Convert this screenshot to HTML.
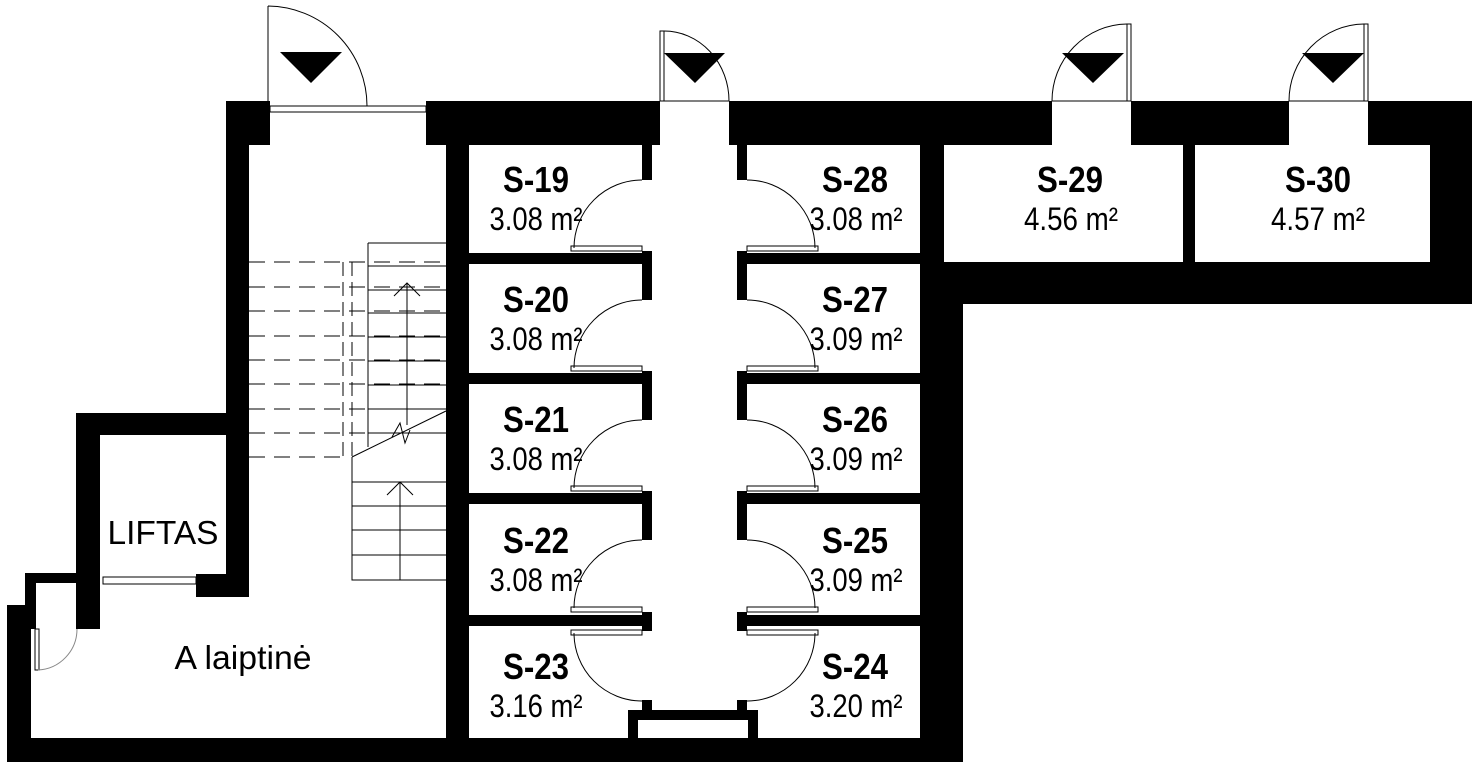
<!DOCTYPE html>
<html><head><meta charset="utf-8"><style>
html,body{margin:0;padding:0;background:#fff;}
svg{display:block;}
.l{font-family:"Liberation Sans",sans-serif;font-weight:bold;font-size:36px;text-anchor:middle;}
.a{font-family:"Liberation Sans",sans-serif;font-size:32px;text-anchor:middle;}
.n{font-family:"Liberation Sans",sans-serif;font-size:33px;text-anchor:middle;}
</style></head><body>
<svg width="1480" height="768" viewBox="0 0 1480 768" xmlns="http://www.w3.org/2000/svg">
<g fill="#000">
<rect x="226" y="101" width="44" height="44"/>
<rect x="426" y="101" width="234" height="44"/>
<rect x="729" y="101" width="323" height="44"/>
<rect x="1131" y="101" width="158" height="44"/>
<rect x="1368" y="101" width="104" height="44"/>
<rect x="1430" y="101" width="42" height="203"/>
<rect x="920" y="262" width="552" height="42"/>
<rect x="920" y="145" width="24" height="120"/>
<rect x="920" y="262" width="43" height="500"/>
<rect x="1183" y="145" width="12" height="120"/>
<rect x="226" y="145" width="23" height="452"/>
<rect x="446" y="101" width="23" height="661"/>
<rect x="76" y="413" width="173" height="22"/>
<rect x="76" y="413" width="24" height="216"/>
<rect x="196" y="574" width="53" height="23"/>
<rect x="25" y="573" width="53" height="10"/>
<rect x="25" y="573" width="11" height="56"/>
<rect x="7" y="605" width="24" height="157"/>
<rect x="7" y="738" width="956" height="24"/>
<rect x="628" y="710" width="130" height="10"/>
<rect x="628" y="710" width="10" height="30"/>
<rect x="748" y="710" width="10" height="30"/>
<rect x="642" y="700" width="10" height="12"/>
<rect x="737" y="700" width="10" height="12"/>
<polygon points="280,52 342,52 311,83"/>
<polygon points="664,53 725,53 695,83"/>
<polygon points="1062,53 1124,53 1093,83"/>
<polygon points="1302,53 1364,53 1333,83"/>
</g>
<g fill="#000">
<rect x="642" y="145" width="10" height="35"/><rect x="737" y="145" width="10" height="35"/>
<rect x="642" y="251" width="10" height="49"/><rect x="737" y="251" width="10" height="49"/>
<rect x="642" y="371" width="10" height="49"/><rect x="737" y="371" width="10" height="49"/>
<rect x="642" y="491" width="10" height="49"/><rect x="737" y="491" width="10" height="49"/>
<rect x="642" y="612" width="10" height="19"/><rect x="737" y="612" width="10" height="19"/>
<rect x="469" y="253" width="173" height="11"/><rect x="747" y="253" width="173" height="11"/>
<rect x="469" y="373" width="173" height="11"/><rect x="747" y="373" width="173" height="11"/>
<rect x="469" y="493" width="173" height="11"/><rect x="747" y="493" width="173" height="11"/>
<rect x="469" y="615" width="173" height="11"/><rect x="747" y="615" width="173" height="11"/>
</g>
<g fill="#fff" stroke="#000" stroke-width="1">
<rect x="571" y="246" width="71" height="5"/><rect x="747" y="246" width="71" height="5"/>
<rect x="571" y="366" width="71" height="5"/><rect x="747" y="366" width="71" height="5"/>
<rect x="571" y="486" width="71" height="5"/><rect x="747" y="486" width="71" height="5"/>
<rect x="571" y="607" width="71" height="5"/><rect x="747" y="607" width="71" height="5"/>
<rect x="571" y="630" width="71" height="5"/><rect x="747" y="630" width="71" height="5"/>
<rect x="660" y="31" width="4" height="70"/>
<rect x="1127" y="24" width="4" height="77"/>
<rect x="1364" y="24" width="4" height="77"/>
<rect x="270" y="106" width="156" height="6"/>
<rect x="103" y="577" width="93" height="7"/>
<rect x="35" y="629" width="4" height="41"/>
</g>
<g fill="none" stroke="#000" stroke-width="1">
<path d="M642,180 A68,68 0 0 0 574,248"/><path d="M747,180 A68,68 0 0 1 815,248"/>
<path d="M642,300 A68,68 0 0 0 574,368"/><path d="M747,300 A68,68 0 0 1 815,368"/>
<path d="M642,420 A68,68 0 0 0 574,488"/><path d="M747,420 A68,68 0 0 1 815,488"/>
<path d="M642,540 A68,68 0 0 0 574,608"/><path d="M747,540 A68,68 0 0 1 815,608"/>
<path d="M574,633 A68,68 0 0 0 642,701"/><path d="M815,633 A68,68 0 0 1 747,701"/>
<path d="M268,6 L268,101 M268,6 A100,100 0 0 1 367,106"/>
<path d="M664,31 A65,70 0 0 1 729,101 M660,101 L729,101"/>
<path d="M1127,24 A76,77 0 0 0 1052,101 M1052,101 L1131,101"/>
<path d="M1364,24 A76,77 0 0 0 1289,101 M1289,101 L1368,101"/>
<path d="M77,629 A41,41 0 0 1 38,670" stroke="#888"/>
<path d="M368,243 L446,243 M368,243 L368,447"/>
<path d="M368,266 H446 M368,290 H446 M368,313 H446 M368,337 H446 M368,361 H446 M368,385 H446 M368,409 H446 M368,433 H446"/>
<path d="M352,457 L446,411 M352,457 V580 H446"/>
<path d="M352,482 H446 M352,506 H446 M352,530 H446 M352,555 H446"/>
<path d="M407,425 V283 M394,296 L407,283 L420,296"/>
<path d="M400,580 V482 M387,495 L400,482 L413,495"/>
<path d="M392,437 L400,423 L405,443 L410,430"/>
<path d="M343,262 V457 M352,262 V457" stroke-dasharray="14,6"/>
<path d="M249,262 H446 M249,287 H446 M249,311 H446 M249,336 H446 M249,360 H446 M249,384 H446 M249,409 H446 M249,433 H368 M249,457 H343" stroke-dasharray="16,9"/>
</g>
<g>
<text class="l" x="536" y="192" textLength="66" lengthAdjust="spacingAndGlyphs">S-19</text><text class="a" x="536" y="230" textLength="93" lengthAdjust="spacingAndGlyphs">3.08 m²</text>
<text class="l" x="536" y="312" textLength="66" lengthAdjust="spacingAndGlyphs">S-20</text><text class="a" x="536" y="350" textLength="93" lengthAdjust="spacingAndGlyphs">3.08 m²</text>
<text class="l" x="536" y="432" textLength="66" lengthAdjust="spacingAndGlyphs">S-21</text><text class="a" x="536" y="470" textLength="93" lengthAdjust="spacingAndGlyphs">3.08 m²</text>
<text class="l" x="536" y="553" textLength="66" lengthAdjust="spacingAndGlyphs">S-22</text><text class="a" x="536" y="591" textLength="93" lengthAdjust="spacingAndGlyphs">3.08 m²</text>
<text class="l" x="536" y="679" textLength="66" lengthAdjust="spacingAndGlyphs">S-23</text><text class="a" x="536" y="717" textLength="93" lengthAdjust="spacingAndGlyphs">3.16 m²</text>
<text class="l" x="855" y="192" textLength="66" lengthAdjust="spacingAndGlyphs">S-28</text><text class="a" x="856" y="230" textLength="93" lengthAdjust="spacingAndGlyphs">3.08 m²</text>
<text class="l" x="855" y="312" textLength="66" lengthAdjust="spacingAndGlyphs">S-27</text><text class="a" x="856" y="350" textLength="93" lengthAdjust="spacingAndGlyphs">3.09 m²</text>
<text class="l" x="855" y="432" textLength="66" lengthAdjust="spacingAndGlyphs">S-26</text><text class="a" x="856" y="470" textLength="93" lengthAdjust="spacingAndGlyphs">3.09 m²</text>
<text class="l" x="855" y="553" textLength="66" lengthAdjust="spacingAndGlyphs">S-25</text><text class="a" x="856" y="591" textLength="93" lengthAdjust="spacingAndGlyphs">3.09 m²</text>
<text class="l" x="855" y="679" textLength="66" lengthAdjust="spacingAndGlyphs">S-24</text><text class="a" x="856" y="717" textLength="93" lengthAdjust="spacingAndGlyphs">3.20 m²</text>
<text class="l" x="1070" y="192" textLength="66" lengthAdjust="spacingAndGlyphs">S-29</text><text class="a" x="1071" y="230" textLength="94" lengthAdjust="spacingAndGlyphs">4.56 m²</text>
<text class="l" x="1318" y="192" textLength="66" lengthAdjust="spacingAndGlyphs">S-30</text><text class="a" x="1318" y="230" textLength="94" lengthAdjust="spacingAndGlyphs">4.57 m²</text>
<text class="n" x="163" y="544" textLength="111" lengthAdjust="spacingAndGlyphs">LIFTAS</text>
<text class="n" x="243" y="669" textLength="137" lengthAdjust="spacingAndGlyphs">A laiptinė</text>
</g>
</svg>
</body></html>
